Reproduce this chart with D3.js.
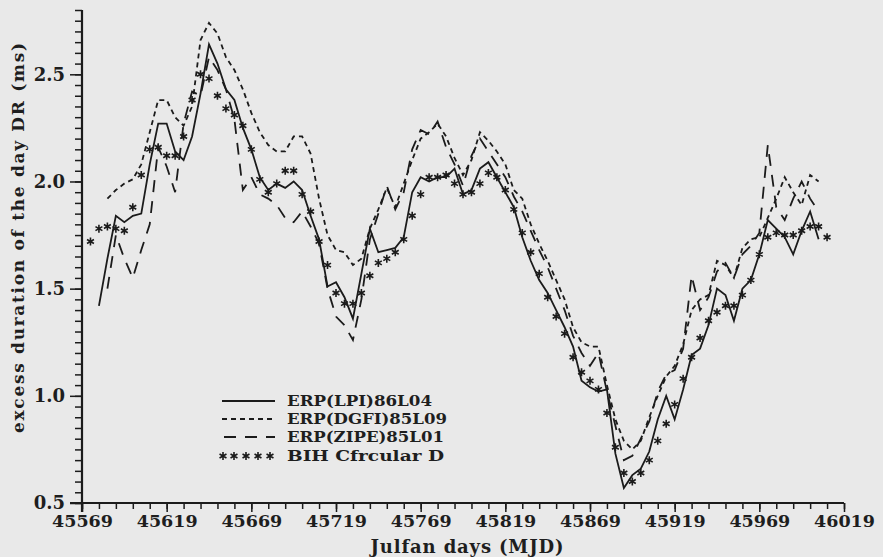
<!DOCTYPE html>
<html>
<head>
<meta charset="utf-8">
<script src="https://cdn.jsdelivr.net/npm/d3@7/dist/d3.min.js"></script>
<style>
  html, body { margin: 0; padding: 0; background: #e9e9e9; }
  svg { display: block; }
  text { font-family: "DejaVu Serif", serif; fill: #1e1e1e; }
</style>
</head>
<body>
<svg id="chart" width="883" height="557"></svg>
<script>
// Sampling epochs (MJD), 5-day step
const mjd = [45574,45579,45584,45589,45594,45599,45604,45609,45614,45619,
  45624,45629,45634,45639,45644,45649,45654,45659,45664,45669,
  45674,45679,45684,45689,45694,45699,45704,45709,45714,45719,
  45724,45729,45734,45739,45744,45749,45754,45759,45764,45769,
  45774,45779,45784,45789,45794,45799,45804,45809,45814,45819,
  45824,45829,45834,45839,45844,45849,45854,45859,45864,45869,
  45874,45879,45884,45889,45894,45899,45904,45909,45914,45919,
  45924,45929,45934,45939,45944,45949,45954,45959,45964,45969,
  45974,45979,45984,45989,45994,45999,46004,46009];

// Excess length of day DR (ms) for each solution
const lpiDR = [null,1.42,1.64,1.84,1.81,1.84,1.85,2.08,2.27,2.27,
  2.14,2.10,2.21,2.41,2.64,2.55,2.43,2.38,2.25,2.15,
  2.02,1.96,1.99,1.97,2.00,1.96,1.84,1.73,1.51,1.53,
  1.46,1.36,1.57,1.78,1.67,1.68,1.69,1.74,1.95,2.02,
  2.00,2.02,2.02,2.06,1.94,1.96,2.06,2.09,2.02,1.95,
  1.88,1.74,1.63,1.54,1.48,1.40,1.32,1.23,1.07,1.04,
  1.02,1.03,0.73,0.57,0.63,0.66,0.74,0.89,1.00,0.89,
  1.03,1.19,1.22,1.33,1.50,1.47,1.35,1.50,1.54,1.66,
  1.82,1.78,1.74,1.66,1.77,1.86,1.73,null];

const dgfiDR = [null,null,1.92,1.96,1.99,2.01,2.08,2.23,2.38,2.38,
  2.30,2.26,2.35,2.66,2.74,2.69,2.58,2.52,2.43,2.32,
  2.23,2.17,2.14,2.14,2.21,2.21,2.13,1.92,1.75,1.68,
  1.67,1.61,1.64,1.78,1.87,1.97,1.88,1.99,2.10,2.20,
  2.23,2.27,2.21,2.11,2.03,2.10,2.23,2.19,2.14,2.08,
  1.96,1.92,1.80,1.71,1.63,1.54,1.45,1.32,1.25,1.23,
  1.23,1.05,0.89,0.79,0.75,0.79,0.90,1.00,1.09,1.14,
  1.24,1.40,1.45,1.47,1.63,1.61,1.55,1.69,1.73,1.74,
  1.83,1.92,2.02,1.95,1.89,2.03,2.00,null];

const zipeDR = [null,null,1.50,1.75,1.64,1.55,1.68,1.80,2.16,2.07,
  1.95,2.27,2.42,2.40,2.58,2.52,2.43,2.29,1.96,2.02,
  1.94,1.92,1.89,1.83,1.81,1.86,1.79,1.71,1.50,1.37,
  1.33,1.26,1.45,1.73,1.85,1.98,1.87,1.95,2.15,2.24,
  2.22,2.28,2.16,2.08,1.98,2.12,2.20,2.14,2.08,2.02,
  1.93,1.86,1.77,1.68,1.60,1.50,1.40,1.28,1.20,1.14,
  1.20,1.02,0.86,0.70,0.72,0.80,0.88,1.02,1.10,1.12,
  1.22,1.56,1.40,1.46,1.58,1.62,1.55,1.66,1.70,1.76,
  2.17,1.88,1.82,1.92,2.00,1.92,1.86,null];

const bihDR = [1.72,1.78,1.79,1.78,1.77,1.88,2.03,2.15,2.16,2.12,
  2.12,2.21,2.38,2.50,2.48,2.40,2.34,2.31,2.26,2.15,
  2.01,1.95,1.99,2.05,2.05,1.94,1.86,1.72,1.61,1.48,
  1.43,1.43,1.48,1.56,1.62,1.64,1.67,1.73,1.84,1.94,
  2.02,2.02,2.03,1.99,1.94,1.95,1.99,2.04,2.02,1.96,
  1.87,1.76,1.67,1.57,1.46,1.37,1.29,1.18,1.11,1.07,
  1.03,0.92,0.76,0.64,0.60,0.64,0.70,0.79,0.87,0.96,
  1.08,1.18,1.27,1.35,1.39,1.42,1.42,1.47,1.54,1.66,
  1.74,1.76,1.75,1.75,1.77,1.79,1.79,1.74];

const seriesNames = ["ERP(LPI)86L04", "ERP(DGFI)85L09", "ERP(ZIPE)85L01", "BIH Cfrcular D"];
const xTickLabels = [45569, 45619, 45669, 45719, 45769, 45819, 45869, 45919, 45969, 46019];
const yTickLabels = [0.5, 1.0, 1.5, 2.0, 2.5];

const ink = "#1b1b1b";
const svg = d3.select("#chart");

const x = d3.scaleLinear().domain([45569, 46019]).range([82, 844]);
const y = d3.scaleLinear().domain([0.5, 2.8]).range([503, 10]);

// ---- axes ----
const xMinor = d3.range(45569, 46020, 10);
const yMinor = d3.range(0, 47).map(i => +(0.5 + i * 0.05).toFixed(2));

const gx = svg.append("g").attr("transform", `translate(0,${y(0.5)})`);
gx.call(d3.axisBottom(x).tickValues(xMinor).tickSize(6).tickFormat(""));
gx.call(g => g.select(".domain").remove());
const gxMaj = svg.append("g").attr("transform", `translate(0,${y(0.5)})`)
  .call(d3.axisBottom(x).tickValues(xTickLabels).tickSize(9).tickPadding(3).tickFormat(d3.format("d")));
gxMaj.select(".domain").remove();
gxMaj.selectAll("text").attr("font-size", 17.5).attr("font-weight", "bold")
  .attr("font-family", "DejaVu Serif").attr("fill", ink);

const gy = svg.append("g").attr("transform", `translate(${x(45569)},0)`);
gy.call(d3.axisLeft(y).tickValues(yMinor).tickSize(7).tickFormat(""));
gy.call(g => g.select(".domain").remove());
const gyMaj = svg.append("g").attr("transform", `translate(${x(45569)},0)`)
  .call(d3.axisLeft(y).tickValues(yTickLabels).tickSize(12).tickPadding(5).tickFormat(d3.format(".1f")));
gyMaj.select(".domain").remove();
gyMaj.selectAll("text").attr("font-size", 18).attr("font-weight", "bold")
  .attr("font-family", "DejaVu Serif").attr("fill", ink);

svg.selectAll(".tick line").attr("stroke", ink).attr("stroke-width", 1.5);

// axis lines
svg.append("line").attr("x1", x(45569) - 12).attr("x2", x(46019))
  .attr("y1", y(0.5)).attr("y2", y(0.5)).attr("stroke", ink).attr("stroke-width", 2.2);
svg.append("line").attr("x1", x(45569)).attr("x2", x(45569))
  .attr("y1", y(0.5) + 9).attr("y2", y(2.8)).attr("stroke", ink).attr("stroke-width", 2.2);

// axis titles
svg.append("text").attr("x", 467).attr("y", 553)
  .attr("text-anchor", "middle").attr("font-size", 18).attr("font-weight", "bold")
  .attr("textLength", 193).attr("lengthAdjust", "spacing")
  .text("Julfan days (MJD)");
svg.append("text")
  .attr("transform", `translate(24,238) rotate(-90)`)
  .attr("text-anchor", "middle").attr("font-size", 17).attr("font-weight", "bold")
  .attr("textLength", 390).attr("lengthAdjust", "spacing")
  .text("excess duration of the day DR (ms)");

// ---- series ----
const lineOf = vals => d3.line()
  .defined((d, i) => vals[i] !== null)
  .x((d, i) => x(mjd[i]))
  .y((d, i) => y(vals[i]))(vals);

const styles = [
  { vals: lpiDR, dash: null },
  { vals: dgfiDR, dash: "5,4" },
  { vals: zipeDR, dash: "12,9" }
];
styles.forEach(s => {
  svg.append("path").attr("d", lineOf(s.vals))
    .attr("fill", "none").attr("stroke", ink).attr("stroke-width", 1.8)
    .attr("stroke-dasharray", s.dash);
});

// asterisk marker
const star = r => {
  let p = "";
  for (let k = 0; k < 3; k++) {
    const a = Math.PI / 2 + k * Math.PI / 3;
    const dx = r * Math.cos(a), dy = r * Math.sin(a);
    p += `M${-dx},${-dy}L${dx},${dy}`;
  }
  return p;
};
svg.append("g").selectAll("path")
  .data(bihDR)
  .join("path")
  .attr("d", star(4))
  .attr("transform", (d, i) => `translate(${x(mjd[i])},${y(d)})`)
  .attr("fill", "none").attr("stroke", ink).attr("stroke-width", 1.6);

// ---- legend ----
const legRows = [401, 419, 437, 456];
const legLens = [145, 160, 157, 157];
const lg = svg.append("g");
[[null, 0], ["5,4", 1], ["12,9", 2]].forEach(([dash, i]) => {
  lg.append("line").attr("x1", 222).attr("x2", 275)
    .attr("y1", legRows[i]).attr("y2", legRows[i])
    .attr("stroke", ink).attr("stroke-width", 1.8)
    .attr("stroke-dasharray", dash)
    .attr("stroke-dashoffset", i === 2 ? 19 : 0);
});
[223, 234, 246, 258, 270].forEach(cx => {
  lg.append("path").attr("d", star(4))
    .attr("transform", `translate(${cx},${legRows[3]})`)
    .attr("fill", "none").attr("stroke", ink).attr("stroke-width", 1.6);
});
seriesNames.forEach((name, i) => {
  lg.append("text").attr("x", 287).attr("y", legRows[i])
    .attr("dy", "0.35em").attr("font-size", 14.5).attr("font-weight", "bold")
    .attr("textLength", legLens[i]).attr("lengthAdjust", "spacingAndGlyphs")
    .text(name);
});
</script>
</body>
</html>
